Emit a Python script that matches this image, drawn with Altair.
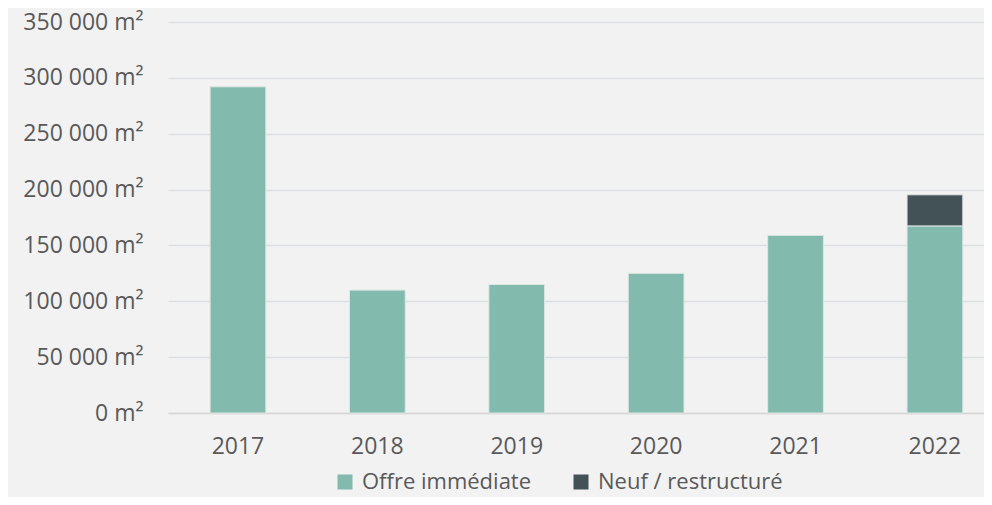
import altair as alt
import pandas as pd

years = ["2017", "2018", "2019", "2020", "2021", "2022"]
offre_immediate = [292000, 110000, 115000, 125000, 159000, 167500]
neuf_restructure = [0, 0, 0, 0, 0, 27800]
series = ["Offre immédiate", "Neuf / restructuré"]
colors = ["#82bbad", "#435256"]

rows = []
for i, y in enumerate(years):
    rows.append({"year": y, "series": series[0], "value": offre_immediate[i], "order": 0})
    if neuf_restructure[i] > 0:
        rows.append({"year": y, "series": series[1], "value": neuf_restructure[i], "order": 1})
df = pd.DataFrame(rows)

FONT = "Open Sans"
TXT = "#595959"

chart = alt.Chart(df).mark_bar(stroke="#dfe6e3", strokeWidth=1).encode(
    x=alt.X("year:N", sort=years, title=None,
            scale=alt.Scale(paddingInner=0.6, paddingOuter=0.227, align=0.665),
            axis=alt.Axis(labelAngle=0, labelFont=FONT, labelFontSize=23, labelColor=TXT,
                          labelPadding=22, ticks=False, domain=True, domainColor="#d6d6d6",
                          domainWidth=1.5, grid=False)),
    y=alt.Y("value:Q", stack="zero", title=None,
            scale=alt.Scale(domain=[0, 350000], nice=False),
            axis=alt.Axis(values=[0, 50000, 100000, 150000, 200000, 250000, 300000, 350000],
                          labelExpr="replace(format(datum.value, ','), ',', ' ') + ' m²'",
                          labelFont=FONT, labelFontSize=23, labelColor=TXT, labelPadding=25,
                          ticks=False, domain=False, gridColor="#dadfe2", gridWidth=1.3)),
    color=alt.Color("series:N", sort=series,
                    scale=alt.Scale(domain=series, range=colors),
                    legend=alt.Legend(title=None, orient="none", direction="horizontal",
                                      legendX=166, legendY=449, symbolType="square",
                                      symbolSize=225, symbolStrokeWidth=0,
                                      labelFont=FONT, labelFontSize=22, labelColor=TXT,
                                      labelLimit=400, columnPadding=38, symbolOffset=0,
                                      labelOffset=6)),
    order=alt.Order("order:Q"),
).properties(
    width=816, height=391,
    autosize=alt.AutoSizeParams(type="none"),
    padding={"left": 160, "top": 14, "right": 0, "bottom": 84},
    background="#f2f2f2",
).configure_view(stroke=None)

chart.save("out.html", embed_options={"renderer": "svg", "actions": False})
